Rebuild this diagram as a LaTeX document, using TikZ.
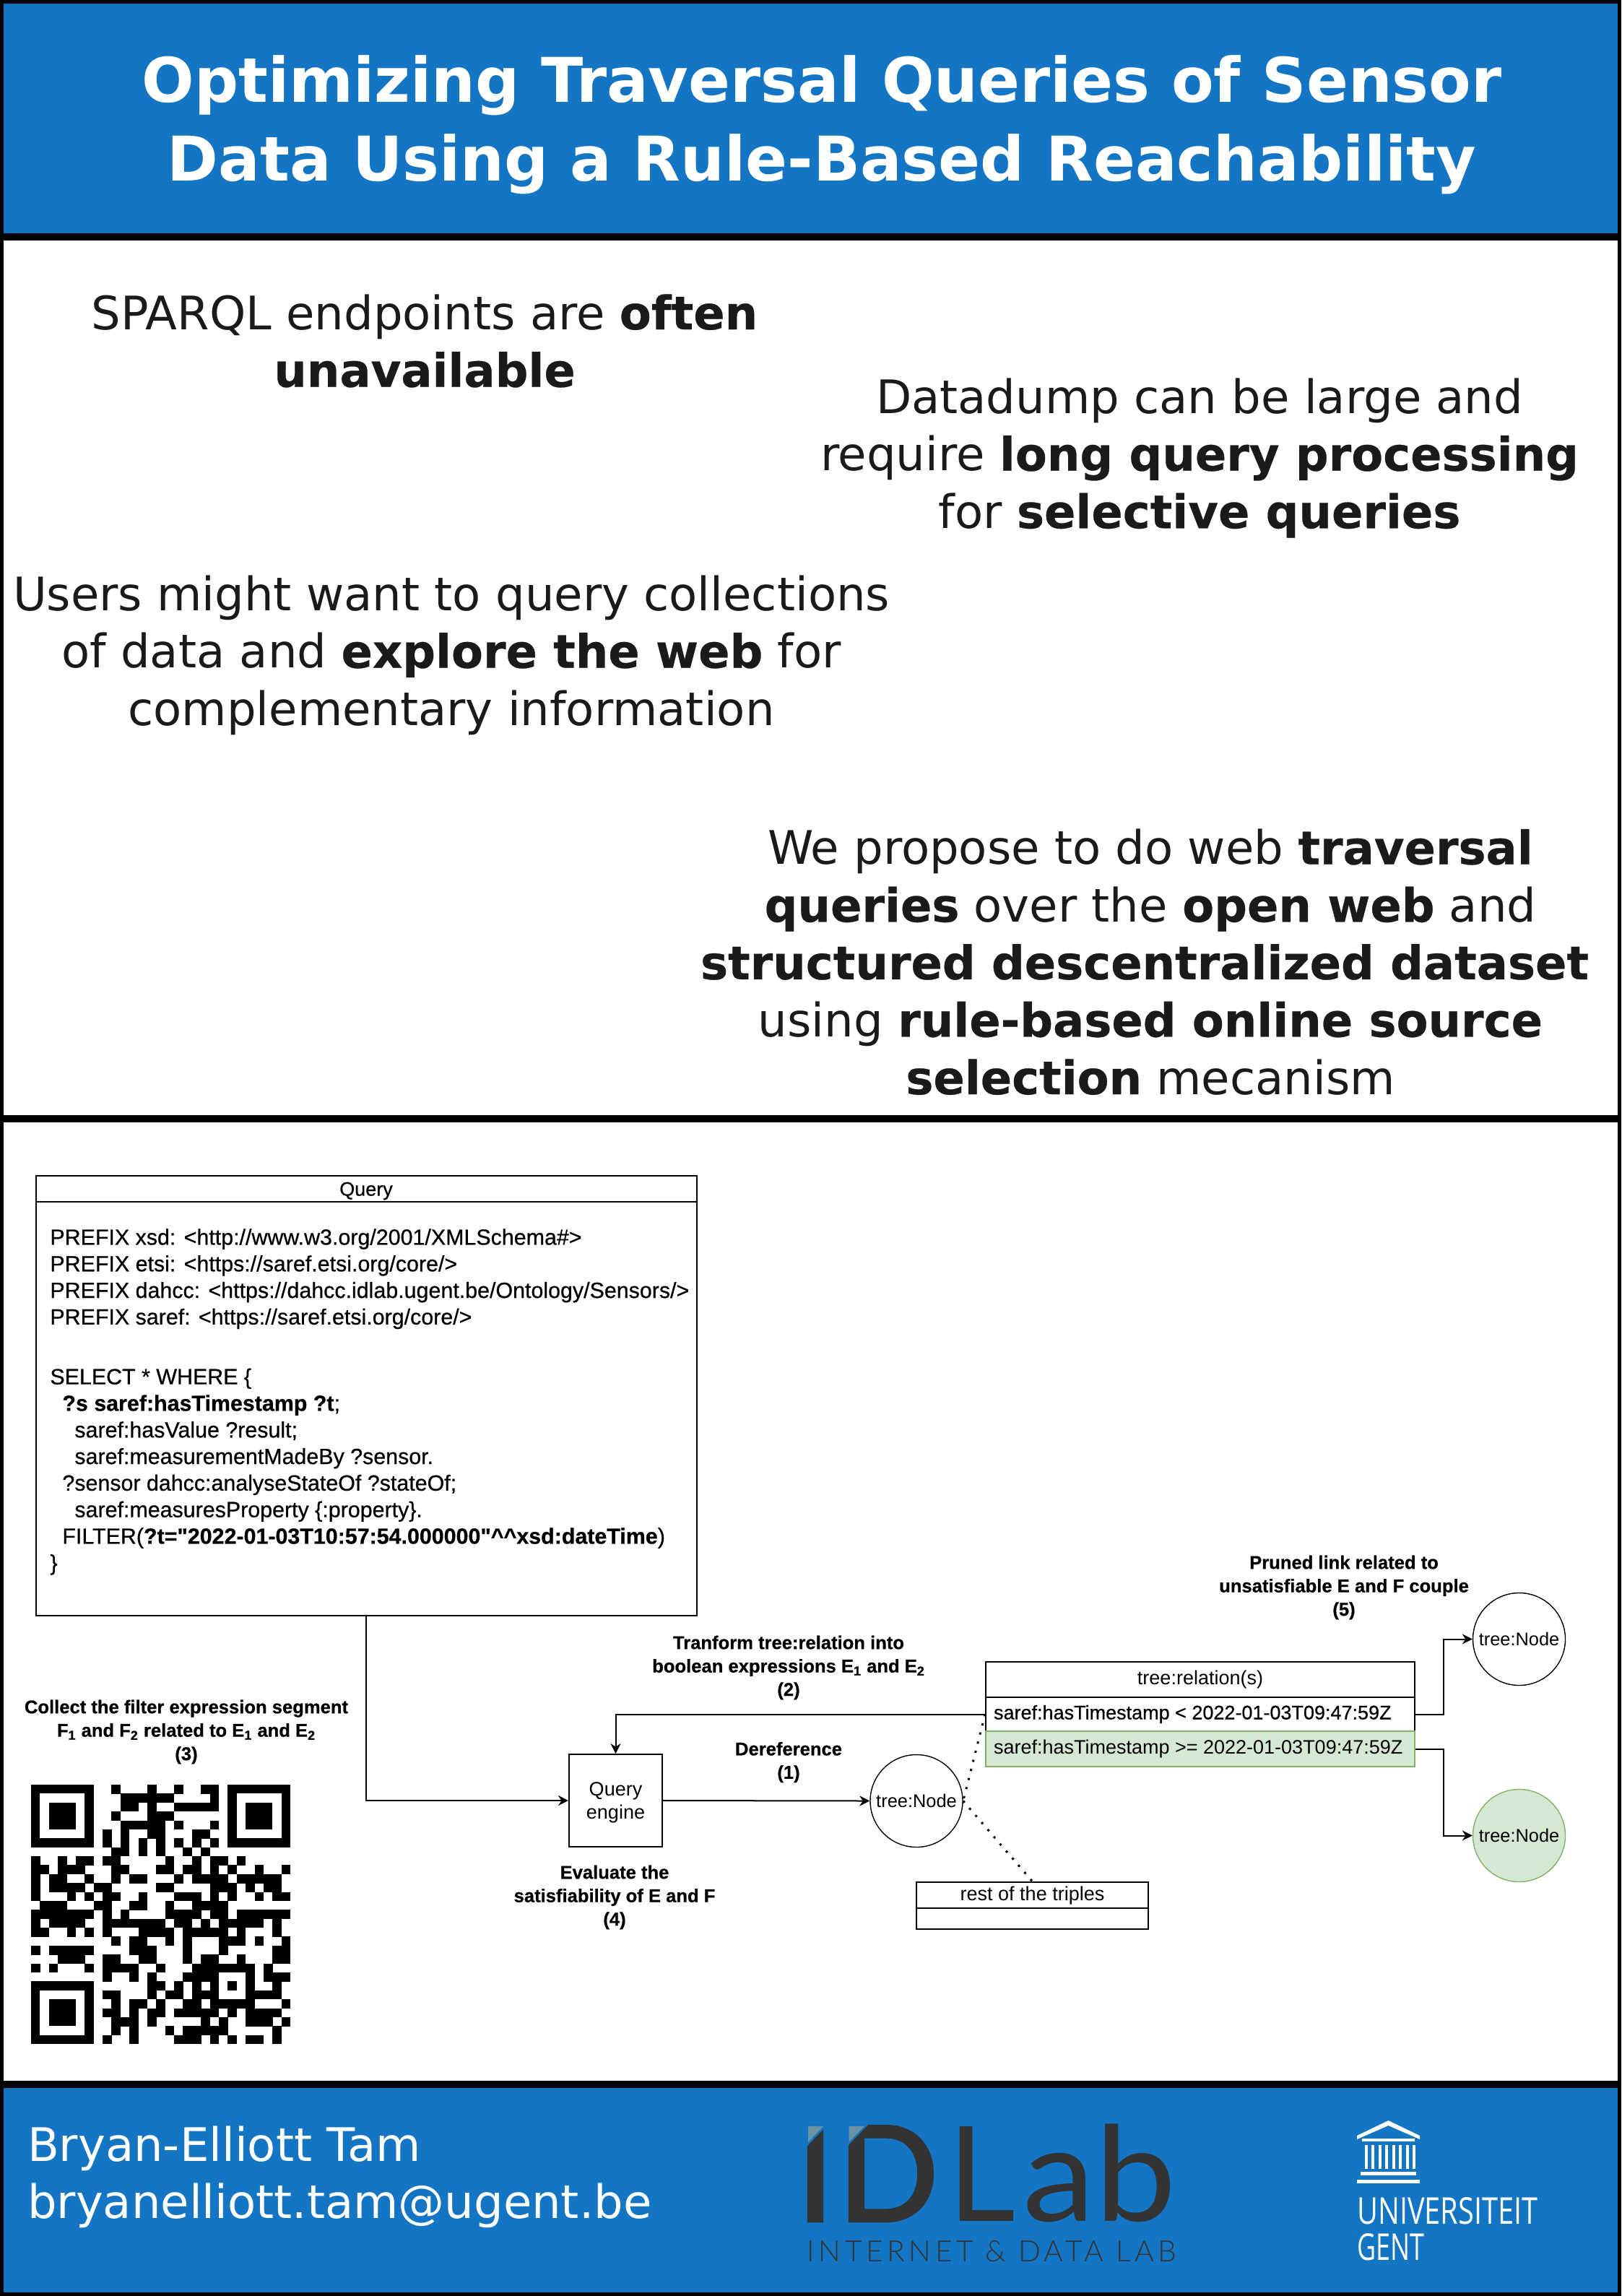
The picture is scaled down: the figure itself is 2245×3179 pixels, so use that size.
\documentclass[tikz,border=0pt]{standalone}
\usepackage{fontspec}
\usetikzlibrary{arrows.meta}
\setmainfont{Liberation Sans}
\newfontfamily\djv{DejaVu Sans}
\newfontfamily\djb[BoldFeatures={FakeBold=0.4}]{DejaVu Sans}
\newfontfamily\dgm{Liberation Sans}
\newfontfamily\dgmh[FakeBold=0.6]{Liberation Sans}
\newfontfamily\idl{Lato}
\newfontfamily\idlb[FakeBold=2.5]{Lato}
\newfontfamily\idls[LetterSpace=14,UprightFont=* Light]{Lato}
\newfontfamily\ug{Open Sans}
\definecolor{ugblue}{HTML}{1375C4}
\definecolor{ink}{HTML}{1A1A1A}
\definecolor{greenfill}{HTML}{D5E8D4}
\definecolor{greenline}{HTML}{82B366}
\definecolor{idgrey}{HTML}{333333}
\definecolor{idtip}{HTML}{6A93A3}
\tikzset{
  x=0.5pt,y=-0.5pt,
  panelb/.style={fill=ugblue,draw=none},
  panelw/.style={fill=white,draw=none},
  titletext/.style={text=white,align=center,font=\djv\fontsize{42.7}{54.3}\selectfont\bfseries},
  bodytext/.style={text=ink,align=center,font=\djb\fontsize{32}{39.8}\selectfont},
  foottext/.style={text=white,align=left,anchor=west,font=\djv\fontsize{32}{39.8}\selectfont},
  dbox/.style={draw=black,line width=1pt,fill=white,inner sep=0pt},
  dtext/.style={font=\dgm\fontsize{13.5}{16}\selectfont,text=black},
  dtexth/.style={font=\dgmh\fontsize{13.5}{16}\selectfont,text=black},
  dlabel/.style={align=center,font=\dgmh\fontsize{12.8}{16.2}\selectfont\bfseries,text=black},
  treenode/.style={circle,draw=black,line width=0.7pt,fill=white,minimum size=64pt,inner sep=0pt,font=\dgm\fontsize{12.7}{16}\selectfont},
  conn/.style={draw=black,line width=1pt,-{Stealth[length=7pt,width=7pt]}},
  dots/.style={draw=black,line width=1.5pt,dash pattern=on 1.5pt off 5pt},
}
\begin{document}
\begin{tikzpicture}
\useasboundingbox (0,0) rectangle (2245,3179);
\fill[black] (0,0) rectangle (2245,3179);
\fill[panelb] (5,5) rectangle (2240,323);
\fill[panelw] (5,333) rectangle (2240,1544);
\fill[panelw] (5,1554) rectangle (2240,2881);
\fill[panelb] (5,2891) rectangle (2240,3174);
% title
\node[titletext] (title) at (1138,173) {Optimizing Traversal Queries of Sensor\\Data Using a Rule-Based Reachability};
% body
\node[bodytext] (p1) at (588,472) {SPARQL endpoints are \textbf{often}\\\textbf{unavailable}};
\node[bodytext] (p2) at (1661,634) {Datadump can be large and\\require \textbf{long query processing}\\for \textbf{selective queries}};
\node[bodytext] (p3) at (625,907) {Users might want to query collections\\of data and \textbf{explore the web} for\\complementary information};
\node[bodytext] (p4) at (1593,1332) {We propose to do web \textbf{traversal}\\\textbf{queries} over the \textbf{open web} and\\\textbf{structured descentralized dataset}\rule{8pt}{0pt}\\using \textbf{rule-based online source}\\\textbf{selection} mecanism};
% query box
\draw[dbox] (50,1628) rectangle (965,2237);
\draw[black,line width=1pt] (50,1664) -- (965,1664);
\node[dtexth] (qh) at (507,1649) {Query};
\coordinate (qbot) at (507,2237);
\node[dtext,anchor=north west,align=left,inner sep=0pt,font=\dgmh\fontsize{15.2}{18.4}\selectfont] (qt) at (69,1701) {PREFIX xsd: <http://www.w3.org/2001/XMLSchema\#>\\
PREFIX etsi: <https://saref.etsi.org/core/>\\
PREFIX dahcc: <https://dahcc.idlab.ugent.be/Ontology/Sensors/>\\
PREFIX saref: <https://saref.etsi.org/core/>\\[23pt]
SELECT * WHERE \{\\
\hspace*{8.5pt}\textbf{?s saref:hasTimestamp ?t};\\
\hspace*{17pt}saref:hasValue ?result;\\
\hspace*{17pt}saref:measurementMadeBy ?sensor.\\
\hspace*{8.5pt}?sensor dahcc:analyseStateOf ?stateOf;\\
\hspace*{17pt}saref:measuresProperty \{:property\}.\\
\hspace*{8.5pt}FILTER(\textbf{?t="2022-01-03T10:57:54.000000"\string^\string^xsd:dateTime})\\
\}};
% engine
\node[dbox,minimum width=64.5pt,minimum height=64pt] (engine) at (852.5,2493) {};
\node[dtext,align=center] (enginet) at (852.5,2496) {Query\\engine};
% mid node
\node[treenode] (mid) at (1269,2493.5) {tree:Node};
% relation table
\node[dbox,minimum width=297pt,minimum height=24.5pt,dtext] (relh) at (1662,2325.5) {tree:relation(s)};
\node[dbox,minimum width=297pt,minimum height=23.5pt,anchor=center] (rel1) at (1662,2373.5) {};
\node[dtexth,anchor=west] (rel1t) at (1369,2373.5) {saref:hasTimestamp < 2022-01-03T09:47:59Z};
\node[draw=greenline,fill=greenfill,line width=1pt,inner sep=0pt,minimum width=297pt,minimum height=24.5pt] (rel2) at (1662,2421.5) {};
\node[dtext,anchor=west] (rel2t) at (1369,2421.5) {saref:hasTimestamp >= 2022-01-03T09:47:59Z};
% leaves
\node[treenode] (top) at (2103.5,2269.5) {tree:Node};
\node[treenode,draw=greenline,fill=greenfill] (green) at (2103.5,2541.5) {tree:Node};
% rest
\node[dbox,minimum width=160.5pt,minimum height=18pt,dtext] (resth) at (1429.5,2624) {rest of the triples};
\node[dbox,minimum width=160.5pt,minimum height=14.5pt] (restb) at (1429.5,2656.5) {};
% connectors
\draw[conn] (qbot) |- (engine.west);
\draw[conn] (engine.east) -- (mid.west);
\draw[conn] (rel1.west) -| (engine.north);
\draw[conn] (rel1.east) -- (1999,2373.5) |- (top.west);
\draw[conn] (rel2.east) -- (1999,2421.5) |- (green.west);
\draw[dots] (rel1.west) -- (mid.east);
\draw[dots] (mid.east) -- (resth.north);
% labels
\node[dlabel] (l1) at (1092,2440) {Dereference\\(1)};
\node[dlabel] (l2) at (1092,2309) {Tranform tree:relation into\\boolean expressions E\textsubscript{1} and E\textsubscript{2}\\(2)};
\node[dlabel] (l3) at (258,2398) {Collect the filter expression segment\\F\textsubscript{1} and F\textsubscript{2} related to E\textsubscript{1} and E\textsubscript{2}\\(3)};
\node[dlabel] (l4) at (851,2627) {Evaluate the\\satisfiability of E and F\\(4)};
\node[dlabel] (l5) at (1861,2198) {Pruned link related to\\unsatisfiable E and F couple\\(5)};
% QR
\def\qrm{12.38}
\foreach \r/\cols in {
0/{9,13,16,19,20},1/{10,11,12,13,14,15,20},2/{10,11,13,16,17,18,19,20},3/{9,13,14,15},
4/{10,11,12,13,14,16,20},5/{8,10,13,14,18,19},6/{8,10,12,14,16,18,20},7/{9,10,12,14,17,19},
8/{0,3,5,6,8,9,15,18,20,21,23},9/{0,1,3,4,5,9,10,14,15,17,18,20,22,25,28},
10/{0,2,3,6,9,11,12,16,18,19,20,21,23,24,25,26,27},11/{0,2,3,4,5,7,8,14,15,20,21,22,24,26,27},
12/{0,4,6,8,9,12,16,17,18,20,22,25,27,28},13/{1,2,3,7,8,11,12,15,18,19,20,21},
14/{0,1,2,3,4,5,6,8,10,15,16,17,18,20,21,23,24,25,26,27,28},
15/{0,2,3,4,5,8,9,10,11,12,13,14,16,17,19,21,22,23,24,25,27},
16/{0,1,4,6,8,12,13,14,15,17,18,19,20,21,23,27},17/{9,11,12,15,17,21,22,23,25,28},
18/{0,2,3,4,5,6,11,12,13,17,21,27,28},19/{3,4,5,8,9,12,13,17,19,20,23,27,28},
20/{0,2,6,8,9,10,11,14,18,19,20,21,22,23,24,26},21/{8,11,13,17,18,19,20,24,26,27,28},
22/{13,14,16,18,20,22,24,27},23/{8,9,13,15,16,18,19,20,24,25,26,27},
24/{9,11,12,14,17,18,20,21,22,23,24,28},25/{8,9,11,13,14,16,17,18,19,20,22,24,25,26,27},
26/{9,10,11,13,19,21,24,25,26,28},27/{9,11,15,17,18,19,20,21,27},
28/{8,11,16,17,18,20,22,24,25,27}}{
  \foreach \c in \cols {
    \fill[black] ({43+\c*\qrm},{2471+\r*\qrm}) rectangle ++(\qrm+0.3,\qrm+0.3);
  }
}
\foreach \fx/\fy in {0/0,22/0,0/22}{
  \fill[black] ({43+\fx*\qrm},{2471+\fy*\qrm}) rectangle ++(7*\qrm,7*\qrm);
  \fill[white] ({43+(\fx+1)*\qrm},{2471+(\fy+1)*\qrm}) rectangle ++(5*\qrm,5*\qrm);
  \fill[black] ({43+(\fx+2)*\qrm},{2471+(\fy+2)*\qrm}) rectangle ++(3*\qrm,3*\qrm);
}
% footer
\node[foottext] (name) at (31,2975) {Bryan-Elliott Tam};
\node[foottext] (mail) at (31,3054) {bryanelliott.tam@ugent.be};
% IDLab
\node[anchor=base west,inner sep=0pt,text=idgrey,font=\fontsize{91.4}{100}\selectfont] (idlab) at (1103,3075) {{\idlb I}\kern3pt{\idlb D}\kern6.5pt{\idl L}\kern5pt{\idl\scalebox{1.1}[1]{ab}}};
\fill[ugblue] (1117,2942) -- (1146,2942) -- (1117,2972) -- cycle;
\fill[idtip] (1119,2944) -- (1140,2944) -- (1119,2966) -- cycle;
\fill[ugblue] (1173,2942) -- (1202,2942) -- (1173,2972) -- cycle;
\fill[idtip] (1175.5,2944) -- (1197,2944) -- (1175.5,2966) -- cycle;
\node[anchor=west,inner sep=0pt,text=idgrey] (idsub) at (1117,3117) {\resizebox{256pt}{!}{\idls INTERNET \& DATA LAB}};
% UGent
\node[anchor=north west,inner sep=0pt,text=white] (ug1) at (1879,3042) {\resizebox{125pt}{18.5pt}{\ug UNIVERSITEIT}};
\node[anchor=north west,inner sep=0pt,text=white] (ug2) at (1879,3092) {\resizebox{46.5pt}{18.5pt}{\ug GENT}};
\fill[white] (1922.5,2936) -- (1966,2957) -- (1966,2962) -- (1922.5,2943) -- (1879,2962) -- (1879,2957) -- cycle;
\fill[white] (1886,2961) rectangle (1959,2965);
\foreach \k in {0,...,7}{\fill[white] ({1889.5+\k*9.5},2970) rectangle ++(4,33);}
\fill[white] (1884,3007) rectangle (1961,3012);
\fill[white] (1879,3018) rectangle (1966,3023);
\end{tikzpicture}
\end{document}
